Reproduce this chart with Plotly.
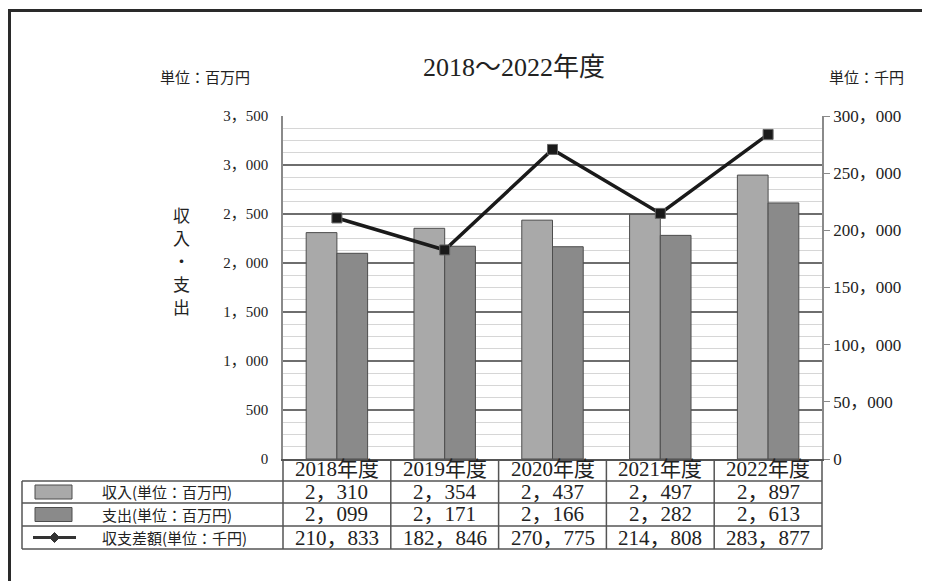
import plotly.graph_objects as go

# ---- data ----
years = ["2018年度", "2019年度", "2020年度", "2021年度", "2022年度"]
income = [2310, 2354, 2437, 2497, 2897]          # 収入 (百万円)
expense = [2099, 2171, 2166, 2282, 2613]         # 支出 (百万円)
balance = [210833, 182846, 270775, 214808, 283877]  # 収支差額 (千円)
row_labels = ["収入(単位：百万円)", "支出(単位：百万円)", "収支差額(単位：千円)"]
left_ticks = [0, 500, 1000, 1500, 2000, 2500, 3000, 3500]
right_ticks = [0, 50000, 100000, 150000, 200000, 250000, 300000]
title_text = "2018～2022年度"
left_unit = "単位：百万円"
right_unit = "単位：千円"
axis_title = "収入・支出"


def fmt(v):
    return f"{v:,}".replace(",", "，")


SERIF = "Liberation Serif, Noto Sans CJK JP"
SANS = "Noto Sans CJK JP"
INK = "#222222"
C_LIGHT = "#a9a9a9"
C_DARK = "#8a8a8a"
C_EDGE = "#4d4d4d"
TBL = "#555555"

W, H = 930, 581
OFF = 8  # page body margin
PL, PR, PT, PB = 283, 822, 116, 459   # plot area in page pixels


def px(x):
    return (x - PL) / (PR - PL)


def py(y):
    return (PB - y) / (PB - PT)


fig = go.Figure()
fig.add_trace(go.Bar(x=years, y=income, name=row_labels[0],
                     marker=dict(color=C_LIGHT, line=dict(color=C_EDGE, width=1))))
fig.add_trace(go.Bar(x=years, y=expense, name=row_labels[1],
                     marker=dict(color=C_DARK, line=dict(color=C_EDGE, width=1))))
fig.add_trace(go.Scatter(x=years, y=balance, name=row_labels[2], yaxis="y2",
                         mode="lines+markers",
                         line=dict(color="#1a1a1a", width=3.5),
                         marker=dict(symbol="square", size=10, color="#1a1a1a",
                                     line=dict(color="#666666", width=1))))

shapes = []
# outer frame (left + top)
shapes.append(dict(type="line", xref="paper", yref="paper", x0=px(OFF + 1.5), x1=px(OFF + 1.5),
                   y0=py(9), y1=py(600), line=dict(color="#2a2a2a", width=3)))
shapes.append(dict(type="line", xref="paper", yref="paper", x0=px(OFF), x1=px(950),
                   y0=py(10.5), y1=py(10.5), line=dict(color="#2a2a2a", width=3)))

# table grid
rows_y = [PB, 481, 503, 526, 549]
n = len(years)
for i in range(n + 1):
    shapes.append(dict(type="line", xref="paper", yref="paper", x0=i / n, x1=i / n,
                       y0=py(rows_y[0]), y1=py(rows_y[-1]), line=dict(color=TBL, width=1.5)))
shapes.append(dict(type="line", xref="paper", yref="paper", x0=px(22), x1=px(22),
                   y0=py(rows_y[1]), y1=py(rows_y[-1]), line=dict(color=TBL, width=1.5)))
for yv in rows_y[1:]:
    shapes.append(dict(type="line", xref="paper", yref="paper", x0=px(22), x1=1,
                       y0=py(yv), y1=py(yv), line=dict(color=TBL, width=1.5)))

# legend swatches in table
row_mid = [(rows_y[k] + rows_y[k + 1]) / 2 for k in range(1, 4)]
for k, col in enumerate([C_LIGHT, C_DARK]):
    shapes.append(dict(type="rect", xref="paper", yref="paper", x0=px(35), x1=px(72),
                       y0=py(row_mid[k] - 7), y1=py(row_mid[k] + 7),
                       fillcolor=col, line=dict(color=C_EDGE, width=1)))
shapes.append(dict(type="line", xref="paper", yref="paper", x0=px(33), x1=px(76),
                   y0=py(row_mid[2]), y1=py(row_mid[2]), line=dict(color="#333333", width=3)))
cxm, cym, d = 54.5, row_mid[2], 5
shapes.append(dict(type="path", xref="paper", yref="paper",
                   path=f"M {px(cxm - d)},{py(cym)} L {px(cxm)},{py(cym - d)} L {px(cxm + d)},{py(cym)} L {px(cxm)},{py(cym + d)} Z",
                   fillcolor="#333333", line=dict(color="#333333", width=1)))


def note(text, x, y, family, size, xref="paper", xanchor="center", **kw):
    return dict(text=text, x=x, y=y, xref=xref, yref="paper", showarrow=False,
                xanchor=xanchor, yanchor="middle",
                font=dict(family=family, size=size, color=INK), **kw)


ann = []
ann.append(note(title_text, px(514), py(67), SERIF, 26))
ann.append(note(left_unit, px(205), py(76), SANS, 15))
ann.append(note(right_unit, px(866), py(76), SANS, 15))
for j, ch in enumerate(axis_title):
    ann.append(note(ch, px(181), py(214 + 23 * j), SANS, 17))

# table header + values
hdr_mid = (rows_y[0] + rows_y[1]) / 2
for i, yr in enumerate(years):
    ann.append(note(yr, yr, py(hdr_mid - 1), SERIF, 21, xref="x"))
for k, series in enumerate([income, expense, balance]):
    for i, v in enumerate(series):
        ann.append(note(fmt(v), years[i], py(row_mid[k]), SERIF, 21, xref="x"))
    ann.append(note(row_labels[k], px(100), py(row_mid[k]), SANS, 15, xanchor="left"))

fig.update_layout(
    width=W, height=H,
    margin=dict(l=PL - OFF, r=W - PR + OFF, t=PT - OFF, b=H - PB + OFF),
    paper_bgcolor="white", plot_bgcolor="white",
    barmode="group", bargap=0.43, bargroupgap=0,
    showlegend=False,
    shapes=shapes, annotations=ann,
    xaxis=dict(type="category", range=[-0.5, len(years) - 0.5], showticklabels=False,
               showgrid=False, showline=True, linecolor=TBL, linewidth=1.5, zeroline=False,
               fixedrange=True),
    yaxis=dict(range=[0, 3500], tickvals=left_ticks, ticktext=[fmt(v) for v in left_ticks],
               showgrid=True, gridcolor="#6e6e6e", gridwidth=1.5,
               minor=dict(dtick=125, tick0=0, showgrid=True, gridcolor="#d6d6d6", gridwidth=1),
               showline=True, linecolor="#8a8a8a", linewidth=1.5, zeroline=False,
               ticks="", ticklabelstandoff=10,
               tickfont=dict(family=SERIF, size=15, color=INK)),
    yaxis2=dict(range=[0, 300000], tickvals=right_ticks, ticktext=[fmt(v) for v in right_ticks],
                overlaying="y", side="right", showgrid=False, zeroline=False,
                showline=True, linecolor="#8a8a8a", linewidth=1.5,
                ticks="outside", ticklen=6, tickcolor="#8a8a8a", ticklabelstandoff=0,
                tickfont=dict(family=SERIF, size=17, color=INK)),
)

fig.write_html("out.html")
